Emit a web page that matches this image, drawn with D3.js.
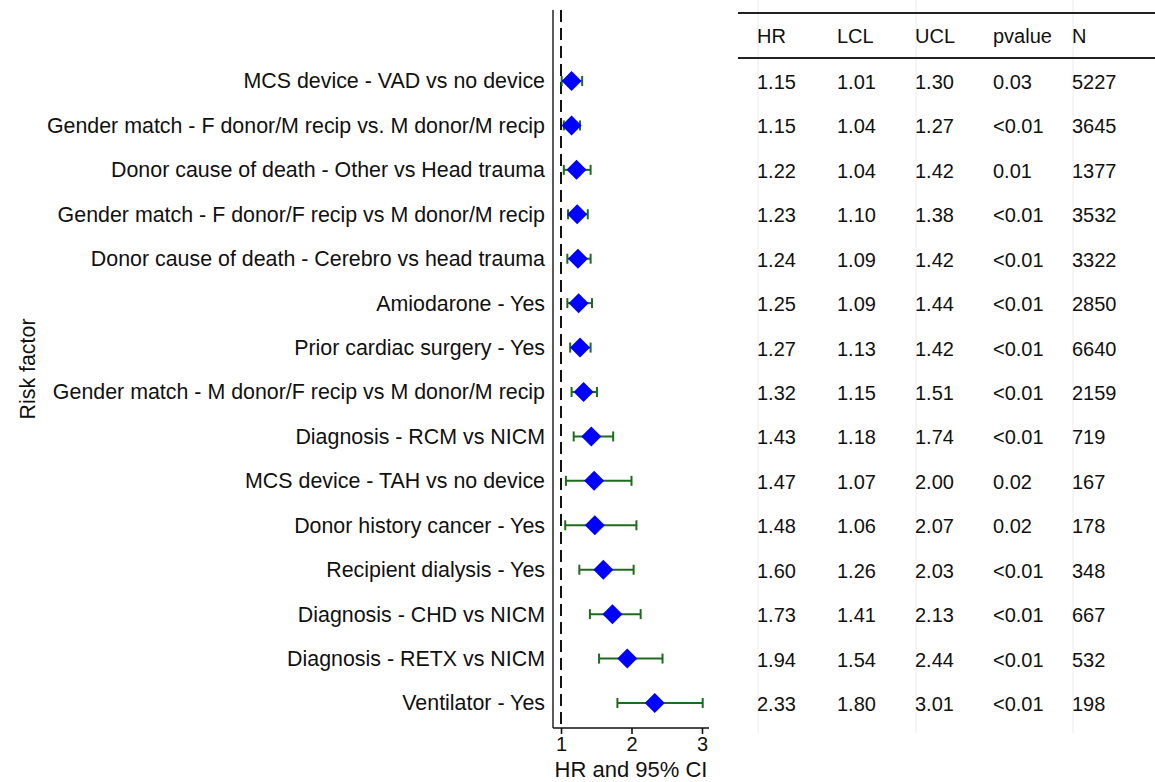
<!DOCTYPE html>
<html>
<head>
<meta charset="utf-8">
<script src="https://cdn.jsdelivr.net/npm/d3@7"></script>
<style>
  html, body { margin: 0; padding: 0; background: #fff; }
  svg { display: block; font-family: "Liberation Sans", Arial, Helvetica, sans-serif; }
</style>
</head>
<body>
<svg id="chart" width="1155" height="782"></svg>
<script>
// Risk factors for the hazard ratio forest plot (top to bottom)
const factors = [
  "MCS device - VAD vs no device",
  "Gender match - F donor/M recip vs. M donor/M recip",
  "Donor cause of death - Other vs Head trauma",
  "Gender match - F donor/F recip vs M donor/M recip",
  "Donor cause of death - Cerebro vs head trauma",
  "Amiodarone - Yes",
  "Prior cardiac surgery - Yes",
  "Gender match - M donor/F recip vs M donor/M recip",
  "Diagnosis - RCM vs NICM",
  "MCS device - TAH vs no device",
  "Donor history cancer - Yes",
  "Recipient dialysis - Yes",
  "Diagnosis - CHD vs NICM",
  "Diagnosis - RETX vs NICM",
  "Ventilator - Yes"
];
const hr  = [1.15, 1.15, 1.22, 1.23, 1.24, 1.25, 1.27, 1.32, 1.43, 1.47, 1.48, 1.60, 1.73, 1.94, 2.33];
const lcl = [1.01, 1.04, 1.04, 1.10, 1.09, 1.09, 1.13, 1.15, 1.18, 1.07, 1.06, 1.26, 1.41, 1.54, 1.80];
const ucl = [1.30, 1.27, 1.42, 1.38, 1.42, 1.44, 1.42, 1.51, 1.74, 2.00, 2.07, 2.03, 2.13, 2.44, 3.01];
const pvalue = ["0.03", "<0.01", "0.01", "<0.01", "<0.01", "<0.01", "<0.01", "<0.01", "<0.01", "0.02", "0.02", "<0.01", "<0.01", "<0.01", "<0.01"];
const nCount = [5227, 3645, 1377, 3532, 3322, 2850, 6640, 2159, 719, 167, 178, 348, 667, 532, 198];
const tableHeaders = ["HR", "LCL", "UCL", "pvalue", "N"];
const xTicks = [1, 2, 3];

const svg = d3.select("#chart");

// Scales
const x = d3.scaleLinear().domain([1, 3]).range([561, 702]);
const y = d3.scalePoint().domain(factors).range([81, 703]);

const plotLeft = 553, plotRight = 709, plotTop = 10, plotBottom = 728;

// Reference line at HR = 1
svg.append("line")
  .attr("x1", x(1)).attr("x2", x(1))
  .attr("y1", plotTop).attr("y2", plotBottom)
  .attr("stroke", "#111").attr("stroke-width", 2)
  .attr("stroke-dasharray", "12,6");

// Axis lines
svg.append("line")
  .attr("x1", plotLeft).attr("x2", plotLeft)
  .attr("y1", plotTop).attr("y2", plotBottom)
  .attr("stroke", "#333").attr("stroke-width", 1.6);

const xAxis = d3.axisBottom(x).tickValues(xTicks).tickSize(6).tickPadding(3).tickFormat(d3.format("d"));
const gx = svg.append("g").attr("transform", `translate(0,${plotBottom})`).call(xAxis);
gx.select(".domain").remove();
gx.selectAll(".tick line").attr("stroke", "#111").attr("stroke-width", 1.6);
gx.selectAll(".tick text").attr("font-size", 20).attr("fill", "#111")
  .attr("font-family", "Liberation Sans, Arial, sans-serif");
svg.append("line")
  .attr("x1", plotLeft).attr("x2", plotRight)
  .attr("y1", plotBottom).attr("y2", plotBottom)
  .attr("stroke", "#111").attr("stroke-width", 1.6);

// Axis titles
svg.append("text")
  .attr("x", (plotLeft + plotRight) / 2).attr("y", 777)
  .attr("text-anchor", "middle").attr("font-size", 22).attr("fill", "#111")
  .text("HR and 95% CI");

svg.append("text")
  .attr("transform", `translate(35,${(plotTop + plotBottom) / 2}) rotate(-90)`)
  .attr("text-anchor", "middle").attr("font-size", 21.4).attr("fill", "#111")
  .text("Risk factor");

// Row labels
svg.append("g").selectAll("text")
  .data(factors).join("text")
  .attr("x", 545).attr("y", d => y(d))
  .attr("dy", "0.35em")
  .attr("text-anchor", "end").attr("font-size", 21.4).attr("fill", "#111")
  .text(d => d);

// Confidence intervals
const ciColor = "#1e6b1e";
const rows = factors.map((f, i) => ({ f, hr: hr[i], lo: lcl[i], hi: ucl[i] }));
const ci = svg.append("g").selectAll("g").data(rows).join("g");
ci.append("line")
  .attr("x1", d => x(d.lo)).attr("x2", d => x(d.hi))
  .attr("y1", d => y(d.f)).attr("y2", d => y(d.f))
  .attr("stroke", ciColor).attr("stroke-width", 2);
ci.append("line")
  .attr("x1", d => x(d.lo)).attr("x2", d => x(d.lo))
  .attr("y1", d => y(d.f) - 5).attr("y2", d => y(d.f) + 5)
  .attr("stroke", ciColor).attr("stroke-width", 2);
ci.append("line")
  .attr("x1", d => x(d.hi)).attr("x2", d => x(d.hi))
  .attr("y1", d => y(d.f) - 5).attr("y2", d => y(d.f) + 5)
  .attr("stroke", ciColor).attr("stroke-width", 2);

// Point estimates as diamonds
const r = 10;
svg.append("g").selectAll("path").data(rows).join("path")
  .attr("d", d => {
    const cx = x(d.hr), cy = y(d.f);
    return `M${cx},${cy - r}L${cx + r},${cy}L${cx},${cy + r}L${cx - r},${cy}Z`;
  })
  .attr("fill", "#0000ff");

// Table on the right
const colX = [757, 837, 915, 993, 1072];
const table = svg.append("g");
[758, 916, 1073].forEach(cx => {
  table.append("line")
    .attr("x1", cx).attr("x2", cx).attr("y1", 0).attr("y2", 733)
    .attr("stroke", "#ececec").attr("stroke-width", 1);
});
table.append("line").attr("x1", 738).attr("x2", 1155).attr("y1", 13).attr("y2", 13)
  .attr("stroke", "#222").attr("stroke-width", 2);
table.append("line").attr("x1", 738).attr("x2", 1155).attr("y1", 58).attr("y2", 58)
  .attr("stroke", "#222").attr("stroke-width", 2);

table.append("g").selectAll("text").data(tableHeaders).join("text")
  .attr("x", (d, i) => colX[i]).attr("y", 36).attr("dy", "0.35em")
  .attr("font-size", 20).attr("fill", "#111").text(d => d);

const fmt = d3.format(".2f");
const cells = rows.map((d, i) => [fmt(hr[i]), fmt(lcl[i]), fmt(ucl[i]), pvalue[i], String(nCount[i])]);
table.append("g").selectAll("g").data(cells).join("g")
  .attr("transform", (d, i) => `translate(0,${y(factors[i]) + 1})`)
  .selectAll("text").data(d => d).join("text")
  .attr("x", (d, j) => colX[j]).attr("dy", "0.35em")
  .attr("font-size", 20).attr("fill", "#111").text(d => d);
</script>
</body>
</html>
